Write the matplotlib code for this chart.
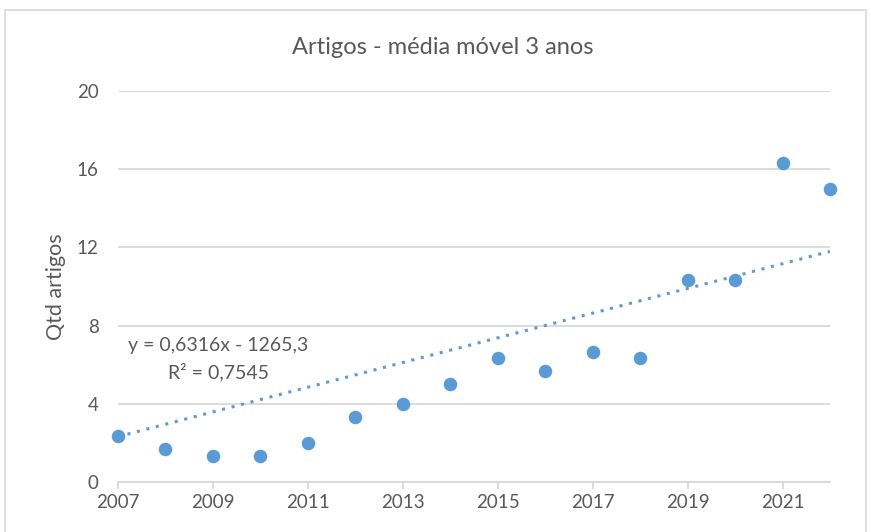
import numpy as np
import matplotlib.pyplot as plt
from matplotlib.patches import Rectangle

# 3-year moving average of article counts
years = [2007, 2008, 2009, 2010, 2011, 2012, 2013, 2014,
         2015, 2016, 2017, 2018, 2019, 2020, 2021, 2022]
media_movel = [2.33, 1.67, 1.33, 1.33, 2.0, 3.33, 4.0, 5.0,
               6.33, 5.67, 6.67, 6.33, 10.33, 10.33, 16.33, 15.0]
x_ticks = [2007, 2009, 2011, 2013, 2015, 2017, 2019, 2021]
y_ticks = [0, 4, 8, 12, 16, 20]

# trend line as printed on the chart
trend_slope = 0.6316
trend_intercept = -1265.3
trend_r2 = 0.7545

blue = "#5b9bd5"
gray_txt = "#595959"
grid_c = "#d9d9d9"

plt.rcParams["font.family"] = ["Lato", "DejaVu Sans"]

fig = plt.figure(figsize=(8.71, 5.32), dpi=100)
ax = fig.add_axes([118 / 871, 1 - 482 / 532, (830 - 118) / 871, (482 - 91) / 532])

# chart border like Excel
fig.patches.append(Rectangle((5 / 871, -0.05), 861 / 871, 1.05 - 10 / 532,
                             transform=fig.transFigure, fill=False,
                             edgecolor=grid_c, linewidth=1.2))

xt = np.array([years[0], years[-1]])
ax.plot(xt, trend_slope * xt + trend_intercept, linestyle=(0, (1, 2.2)),
        color=blue, linewidth=2.2, zorder=2)

ax.scatter(years, media_movel, s=95, color=blue, zorder=3, clip_on=False,
           linewidths=0)

ax.set_xlim(2007, 2022)
ax.set_ylim(0, 20)
ax.set_xticks(x_ticks)
ax.set_yticks(y_ticks)
ax.yaxis.grid(True, color=grid_c, linewidth=1.3)
ax.set_axisbelow(True)
for s in ["top", "right", "left"]:
    ax.spines[s].set_visible(False)
ax.spines["bottom"].set_color(grid_c)
ax.spines["bottom"].set_linewidth(1.3)
ax.tick_params(axis="y", length=0, pad=14, labelsize=13.5, labelcolor=gray_txt)
ax.tick_params(axis="x", length=5, color=grid_c, width=1.3, pad=4,
               labelsize=13.5, labelcolor=gray_txt)

ax.set_ylabel("Qtd artigos", fontsize=15.5, color=gray_txt, labelpad=8)
fig.text(443 / 871, 1 - 47 / 532, "Artigos - média móvel 3 anos",
         ha="center", va="center", fontsize=17, color=gray_txt)

eq = f"y = {trend_slope}x - {abs(trend_intercept)}".replace(".", ",")
r2 = f"R² = {trend_r2}".replace(".", ",")
fig.text(218 / 871, 1 - 346 / 532, eq, ha="center", va="center",
         fontsize=14, color=gray_txt)
fig.text(218 / 871, 1 - 372 / 532, r2, ha="center", va="center",
         fontsize=14, color=gray_txt)

fig.savefig("out.png", dpi=100)
